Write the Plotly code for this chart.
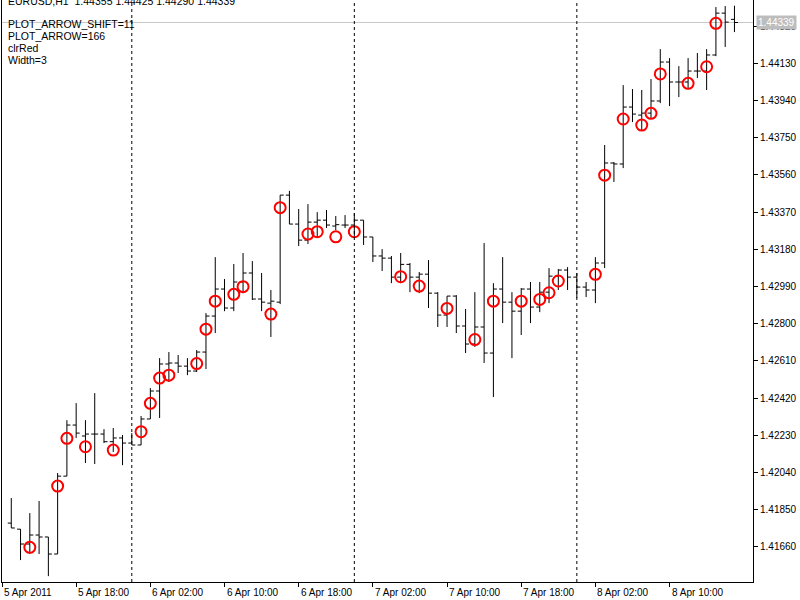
import plotly.graph_objects as go
import pandas as pd

# ---- data (EURUSD, H1) ----
first_bar = "2011-04-05 11:00"
n_bars = 79
opens = [1.41781, 1.41750, 1.41674, 1.41720, 1.41710, 1.41623, 1.42021, 1.42282, 1.42226, 1.42236,
         1.42236, 1.42197, 1.42216, 1.42190, 1.42180, 1.42313, 1.42456, 1.42594, 1.42599, 1.42583,
         1.42558, 1.42655, 1.42839, 1.42977, 1.42880, 1.43013, 1.43059, 1.42926, 1.42905, 1.42910,
         1.43457, 1.43309, 1.43227, 1.43319, 1.43329, 1.43299, 1.43304, 1.43304, 1.43329, 1.43243,
         1.43146, 1.43135, 1.43038, 1.43103, 1.43038, 1.43053, 1.42956, 1.42844, 1.42941, 1.42788,
         1.42696, 1.42783, 1.42650, 1.42977, 1.42910, 1.42864, 1.42977, 1.42885, 1.42961, 1.43043,
         1.43074, 1.43038, 1.42987, 1.42972, 1.43110, 1.43621, 1.43616, 1.43907, 1.43866, 1.43876,
         1.43938, 1.44137, 1.44035, 1.44035, 1.44091, 1.44091, 1.44173, 1.44387, 1.44355]
highs = [1.41909, 1.41750, 1.41832, 1.41894, 1.41710, 1.42037, 1.42307, 1.42394, 1.42307, 1.42445,
         1.42261, 1.42267, 1.42231, 1.42241, 1.42328, 1.42471, 1.42624, 1.42655, 1.42640, 1.42624,
         1.42665, 1.42854, 1.43140, 1.43028, 1.43105, 1.43161, 1.43120, 1.43059, 1.42972, 1.43457,
         1.43479, 1.43386, 1.43411, 1.43370, 1.43381, 1.43350, 1.43355, 1.43365, 1.43329, 1.43243,
         1.43181, 1.43146, 1.43161, 1.43110, 1.43064, 1.43125, 1.42961, 1.42941, 1.42946, 1.42875,
         1.42961, 1.43212, 1.43007, 1.43140, 1.42961, 1.42982, 1.43013, 1.43013, 1.43084, 1.43079,
         1.43089, 1.43059, 1.43013, 1.43140, 1.43713, 1.43626, 1.44019, 1.43999, 1.43994, 1.44050,
         1.44203, 1.44157, 1.44116, 1.44157, 1.44183, 1.44203, 1.44418, 1.44423, 1.44425]
lows = [1.41756, 1.41592, 1.41623, 1.41623, 1.41510, 1.41623, 1.42021, 1.42216, 1.42088, 1.42083,
        1.42190, 1.42144, 1.42077, 1.42180, 1.42180, 1.42313, 1.42318, 1.42502, 1.42548, 1.42537,
        1.42553, 1.42568, 1.42752, 1.42864, 1.42864, 1.42956, 1.42921, 1.42864, 1.42732, 1.42900,
        1.43309, 1.43197, 1.43207, 1.43243, 1.43289, 1.43278, 1.43289, 1.43243, 1.43202, 1.43115,
        1.43069, 1.43007, 1.43007, 1.42961, 1.42956, 1.42880, 1.42783, 1.42783, 1.42752, 1.42650,
        1.42681, 1.42599, 1.42425, 1.42803, 1.42624, 1.42742, 1.42803, 1.42859, 1.42905, 1.42972,
        1.42972, 1.42931, 1.42936, 1.42905, 1.43084, 1.43524, 1.43595, 1.43830, 1.43789, 1.43851,
        1.43927, 1.43912, 1.43958, 1.44004, 1.44055, 1.43994, 1.44167, 1.44214, 1.44290]
closes = [1.41756, 1.41674, 1.41720, 1.41710, 1.41623, 1.42021, 1.42282, 1.42241, 1.42236, 1.42236,
          1.42197, 1.42216, 1.42190, 1.42180, 1.42313, 1.42456, 1.42594, 1.42599, 1.42583, 1.42558,
          1.42655, 1.42839, 1.42977, 1.42880, 1.43013, 1.43059, 1.42926, 1.42910, 1.42915, 1.43457,
          1.43309, 1.43227, 1.43319, 1.43329, 1.43304, 1.43306, 1.43304, 1.43329, 1.43243, 1.43146,
          1.43135, 1.43038, 1.43103, 1.43038, 1.43053, 1.42956, 1.42844, 1.42941, 1.42788, 1.42696,
          1.42783, 1.42650, 1.42977, 1.42910, 1.42864, 1.42977, 1.42885, 1.42961, 1.43043, 1.43074,
          1.43038, 1.42987, 1.42972, 1.43110, 1.43621, 1.43616, 1.43907, 1.43871, 1.43876, 1.43938,
          1.44137, 1.44035, 1.44035, 1.44091, 1.44091, 1.44173, 1.44387, 1.44341, 1.44339]

# red circle markers (arrow code 166) : bar index and plotted price
arrow_bars = [2, 5, 6, 8, 11, 14, 15, 16, 17, 20, 21, 22, 24, 25, 28, 29, 32, 33, 35, 37,
              42, 44, 47, 50, 52, 55, 57, 58, 59, 63, 64, 66, 68, 69, 70, 73, 75, 76]
arrow_price = [1.41657, 1.41970, 1.42214, 1.42171, 1.42154, 1.42248, 1.42393, 1.42522, 1.42537, 1.42596,
               1.42772, 1.42915, 1.42950, 1.42989, 1.42849, 1.43393, 1.43258, 1.43270, 1.43244, 1.43270,
               1.43040, 1.42992, 1.42878, 1.42719, 1.42915, 1.42915, 1.42924, 1.42958, 1.43018, 1.43052,
               1.43559, 1.43846, 1.43815, 1.43875, 1.44076, 1.44028, 1.44113, 1.44335]

y_ticks = ["1.41660", "1.41850", "1.42040", "1.42230", "1.42420", "1.42610", "1.42800", "1.42990",
           "1.43180", "1.43370", "1.43560", "1.43750", "1.43940", "1.44130", "1.44320"]
x_tick_times = ["2011-04-05 10:00", "2011-04-05 18:00", "2011-04-06 02:00", "2011-04-06 10:00",
                "2011-04-06 18:00", "2011-04-07 02:00", "2011-04-07 10:00", "2011-04-07 18:00",
                "2011-04-08 02:00", "2011-04-08 10:00"]
x_tick_labels = ["5 Apr 2011", "5 Apr 18:00", "6 Apr 02:00", "6 Apr 10:00", "6 Apr 18:00",
                 "7 Apr 02:00", "7 Apr 10:00", "7 Apr 18:00", "8 Apr 02:00", "8 Apr 10:00"]
day_separators = ["2011-04-06 00:00", "2011-04-07 00:00", "2011-04-08 00:00"]
info_lines = ["PLOT_ARROW_SHIFT=11", "PLOT_ARROW=166", "clrRed", "Width=3"]
title_text = "EURUSD,H1  1.44355 1.44425 1.44290 1.44339"
current_price = 1.44339

times = pd.date_range(first_bar, periods=n_bars, freq="h")
arrow_times = [times[i] for i in arrow_bars]

FONT = "Liberation Sans, Arial, sans-serif"

fig = go.Figure()
fig.add_trace(go.Ohlc(
    x=times, open=opens, high=highs, low=lows, close=closes,
    increasing=dict(line=dict(color="black", width=1)),
    decreasing=dict(line=dict(color="black", width=1)),
    tickwidth=0.38, showlegend=False, hoverinfo="skip"))
fig.add_trace(go.Scatter(
    x=arrow_times, y=arrow_price, mode="markers",
    marker=dict(symbol="circle-open", size=11, color="red", line=dict(color="red", width=2)),
    showlegend=False, hoverinfo="skip"))

shapes = []
for d in day_separators:
    shapes.append(dict(type="line", xref="x", yref="paper", x0=d, x1=d, y0=0, y1=1,
                       line=dict(color="black", width=1, dash="3px,3px"), layer="above"))
shapes.append(dict(type="line", xref="paper", yref="y", x0=0, x1=1, y0=current_price, y1=current_price,
                   line=dict(color="#c8c8c8", width=1), layer="below"))

annotations = []
for t, lab in zip(x_tick_times, x_tick_labels):
    annotations.append(dict(x=t, y=0, xref="x", yref="paper", text=lab, showarrow=False,
                            xanchor="left", yanchor="top", xshift=0, yshift=-3,
                            font=dict(family=FONT, size=10, color="black")))
for k, line in enumerate(info_lines):
    annotations.append(dict(x=0, y=1, xref="paper", yref="paper", text=line, showarrow=False,
                            xanchor="left", yanchor="middle", xshift=4, yshift=-(24 + 12 * k),
                            font=dict(family=FONT, size=10.5, color="black")))
annotations.append(dict(x=0, y=1, xref="paper", yref="paper", text=title_text, showarrow=False,
                        xanchor="left", yanchor="middle", xshift=4, yshift=-1,
                        font=dict(family=FONT, size=10.5, color="black")))
annotations.append(dict(x=1, y=current_price, xref="paper", yref="y", text=f"{current_price:.5f}",
                        showarrow=False, xanchor="left", yanchor="middle", xshift=3,
                        bgcolor="#bdbdbd", borderpad=1,
                        font=dict(family=FONT, size=10, color="white")))

fig.update_layout(
    width=800, height=600,
    margin=dict(l=2, r=47, t=0, b=18),
    paper_bgcolor="white", plot_bgcolor="white",
    shapes=shapes, annotations=annotations,
    xaxis=dict(type="date", range=["2011-04-05 10:00", "2011-04-08 19:00"],
               rangeslider=dict(visible=False), showgrid=False, zeroline=False,
               showline=True, linecolor="black", linewidth=1,
               tickvals=x_tick_times, showticklabels=False,
               ticks="outside", ticklen=4, tickcolor="black"),
    yaxis=dict(side="right", range=[1.41480, 1.44454], showgrid=False, zeroline=False,
               showline=True, linecolor="black", linewidth=1, mirror=True,
               tickvals=[float(v) for v in y_ticks], ticktext=y_ticks,
               ticks="outside", ticklen=4, tickcolor="black",
               tickfont=dict(family=FONT, size=10, color="black")),
)

fig.write_html("out.html")
